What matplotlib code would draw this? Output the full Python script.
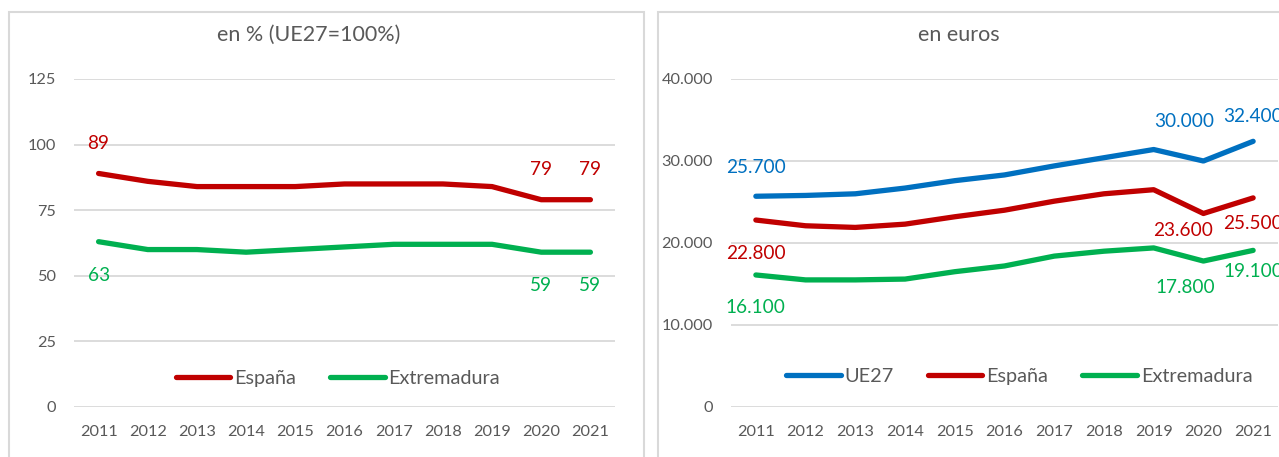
import matplotlib
matplotlib.use("Agg")
import matplotlib.pyplot as plt
from matplotlib.patches import Rectangle

years = ["2011", "2012", "2013", "2014", "2015", "2016", "2017", "2018", "2019", "2020", "2021"]

# Panel 1: en % (UE27=100%)
pct_espana = [89, 86, 84, 84, 84, 85, 85, 85, 84, 79, 79]
pct_extremadura = [63, 60, 60, 59, 60, 61, 62, 62, 62, 59, 59]

# Panel 2: en euros
eur_ue27 = [25700, 25800, 26000, 26700, 27600, 28300, 29400, 30400, 31400, 30000, 32400]
eur_espana = [22800, 22100, 21900, 22300, 23200, 24000, 25100, 26000, 26500, 23600, 25500]
eur_extremadura = [16100, 15500, 15500, 15600, 16500, 17200, 18400, 19000, 19400, 17800, 19100]

titles = ["en % (UE27=100%)", "en euros"]

C_RED = "#C00000"
C_GREEN = "#00B050"
C_BLUE = "#0070C0"
C_TEXT = "#595959"
C_GRID = "#D9D9D9"

plt.rcParams["font.family"] = ["Lato", "DejaVu Sans"]

W, H = 1279, 457
fig = plt.figure(figsize=(W / 100, H / 100), dpi=100)

def fx(px):
    return px / W

def fy(py):
    return 1 - py / H

# panel borders
fig.patches.append(Rectangle((fx(9), fy(470)), fx(644 - 9), fy(12) - fy(470),
                             transform=fig.transFigure, fill=False,
                             edgecolor=C_GRID, lw=1.5))
fig.patches.append(Rectangle((fx(658), fy(470)), fx(700), fy(12) - fy(470),
                             transform=fig.transFigure, fill=False,
                             edgecolor=C_GRID, lw=1.5))

ax1 = fig.add_axes([fx(74), fy(407), fx(615 - 74), fy(79) - fy(407)])
ax2 = fig.add_axes([fx(731), fy(407), fx(1278 - 731), fy(79) - fy(407)])

x = list(range(len(years)))
LW = 3.8
TICK_FS = 11.7
LAB_FS = 13.7
LEG_FS = 14.3
TITLE_FS = 15.5

def style(ax, ylim, yticks, yticklabels):
    ax.set_xlim(-0.5, len(years) - 0.5)
    ax.set_ylim(*ylim)
    ax.set_yticks(yticks)
    ax.set_yticklabels(yticklabels)
    ax.set_xticks(x)
    ax.set_xticklabels(years)
    for s in ax.spines.values():
        s.set_visible(False)
    ax.grid(axis="y", color=C_GRID, lw=1.3)
    ax.set_axisbelow(True)
    ax.tick_params(axis="both", length=0, labelsize=TICK_FS, colors=C_TEXT)
    ax.tick_params(axis="y", pad=13)
    ax.tick_params(axis="x", pad=13)
    ax.patch.set_alpha(0)

style(ax1, (0, 125), [0, 25, 50, 75, 100, 125], ["0", "25", "50", "75", "100", "125"])
style(ax2, (0, 40000), [0, 10000, 20000, 30000, 40000], ["0", "10.000", "20.000", "30.000", "40.000"])

ax1.plot(x, pct_espana, color=C_RED, lw=LW, label="España", solid_capstyle="round")
ax1.plot(x, pct_extremadura, color=C_GREEN, lw=LW, label="Extremadura", solid_capstyle="round")

ax2.plot(x, eur_ue27, color=C_BLUE, lw=LW, label="UE27", solid_capstyle="round")
ax2.plot(x, eur_espana, color=C_RED, lw=LW, label="España", solid_capstyle="round")
ax2.plot(x, eur_extremadura, color=C_GREEN, lw=LW, label="Extremadura", solid_capstyle="round")

def lab(ax, i, vals, txt, color, dx, dy):
    ax.annotate(txt, (i, vals[i]), xytext=(dx, dy), textcoords="offset pixels",
                ha="center", va="center", fontsize=LAB_FS, color=color)

def fmt(v):
    return f"{v:,}".replace(",", ".")

# left labels
for i, dy in [(0, 30), (9, 30), (10, 30)]:
    lab(ax1, i, pct_espana, str(pct_espana[i]), C_RED, 0, dy)
for i, dy in [(0, -34), (9, -33), (10, -33)]:
    lab(ax1, i, pct_extremadura, str(pct_extremadura[i]), C_GREEN, 0, dy)

# right labels
lab(ax2, 0, eur_ue27, fmt(eur_ue27[0]), C_BLUE, 0, 29)
lab(ax2, 9, eur_ue27, fmt(eur_ue27[9]), C_BLUE, -19, 39)
lab(ax2, 10, eur_ue27, fmt(eur_ue27[10]), C_BLUE, 0, 25)
lab(ax2, 0, eur_espana, fmt(eur_espana[0]), C_RED, 0, -33)
lab(ax2, 9, eur_espana, fmt(eur_espana[9]), C_RED, -20, -17)
lab(ax2, 10, eur_espana, fmt(eur_espana[10]), C_RED, 0, -26)
lab(ax2, 0, eur_extremadura, fmt(eur_extremadura[0]), C_GREEN, 0, -33)
lab(ax2, 9, eur_extremadura, fmt(eur_extremadura[9]), C_GREEN, -18, -26)
lab(ax2, 10, eur_extremadura, fmt(eur_extremadura[10]), C_GREEN, 0, -21)

# titles
fig.text(fx(309), fy(35), titles[0], ha="center", va="center", fontsize=TITLE_FS, color=C_TEXT)
fig.text(fx(959), fy(35), titles[1], ha="center", va="center", fontsize=TITLE_FS, color=C_TEXT)

leg_kw = dict(loc="center", frameon=False, fontsize=LEG_FS, handlelength=2.75,
              handletextpad=0.2, borderaxespad=0, labelcolor=C_TEXT)
ax1.legend(ncol=2, bbox_to_anchor=(0.488, 0.088), columnspacing=1.7, **leg_kw)
ax2.legend(ncol=3, bbox_to_anchor=(0.527, 0.0945), columnspacing=1.7, **leg_kw)

fig.savefig("out.png", dpi=100)
